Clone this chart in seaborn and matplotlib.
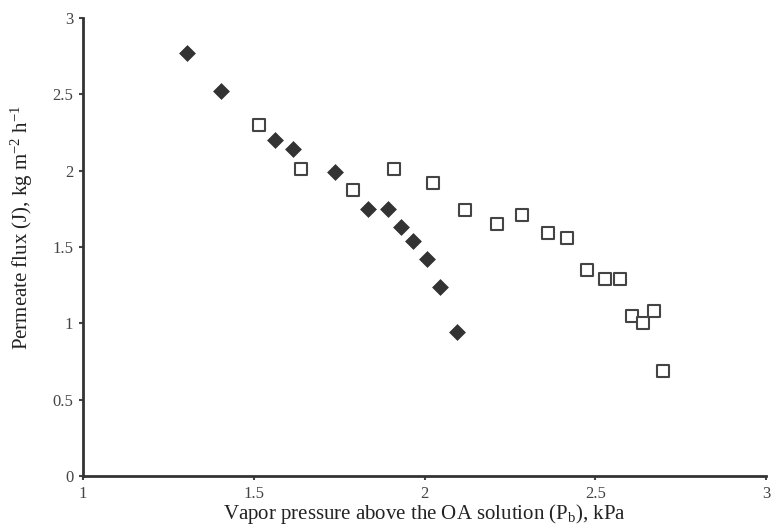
import pandas as pd
import matplotlib.pyplot as plt
import seaborn as sns

# Diamond series (filled)
pb_filled = [1.305, 1.404, 1.562, 1.615, 1.738, 1.835, 1.893, 1.931, 1.966, 2.007, 2.045, 2.095]
flux_filled = [2.77, 2.52, 2.20, 2.14, 1.99, 1.75, 1.75, 1.63, 1.54, 1.42, 1.24, 0.94]

# Square series (open)
pb_open = [1.515, 1.638, 1.790, 1.911, 2.025, 2.120, 2.212, 2.286, 2.362, 2.417,
           2.476, 2.529, 2.573, 2.608, 2.640, 2.672, 2.698]
flux_open = [2.30, 2.01, 1.87, 2.01, 1.92, 1.74, 1.65, 1.71, 1.59, 1.56,
             1.35, 1.29, 1.29, 1.05, 1.00, 1.08, 0.69]

sns.set_style("ticks")
plt.rcParams['font.family'] = ['Liberation Serif', 'DejaVu Serif']
plt.rcParams['mathtext.fontset'] = 'custom'
plt.rcParams['mathtext.rm'] = 'Liberation Serif'
plt.rcParams['mathtext.it'] = 'Liberation Serif'

fig = plt.figure(figsize=(7.71, 5.28), dpi=100)
ax = fig.add_axes([0.1077, 0.0985, 0.8858, 0.8675])

sns.scatterplot(x=pb_filled, y=flux_filled, marker="D", s=65, color="#333333",
                edgecolor="#333333", linewidth=0.5, ax=ax)
sns.scatterplot(x=pb_open, y=flux_open, marker="s", s=65, facecolor="white",
                edgecolor="#444444", linewidth=1.5, ax=ax)

ax.set_xlim(1, 3)
ax.set_ylim(0, 3)
ax.set_xticks([1, 1.5, 2, 2.5, 3])
ax.set_xticklabels(["1", "1.5", "2", "2.5", "3"])
ax.set_yticks([0, 0.5, 1, 1.5, 2, 2.5, 3])
ax.set_yticklabels(["0", "0.5", "1", "1.5", "2", "2.5", "3"])
ax.tick_params(labelsize=12, colors="#444444", length=3, width=1.5, pad=4)

for side in ["left", "bottom"]:
    ax.spines[side].set_linewidth(2)
    ax.spines[side].set_color("#333333")
sns.despine(ax=ax)

ax.set_xlabel(r"Vapor pressure above the OA solution (P$_\mathrm{b}$), kPa",
              fontsize=15, color="#222222", labelpad=0)
ax.set_ylabel(r"Permeate flux (J), kg m$^{-2}$ h$^{-1}$",
              fontsize=15, color="#222222")
ax.yaxis.set_label_coords(-0.07, 0.543)

plt.savefig("out.png", dpi=100)
